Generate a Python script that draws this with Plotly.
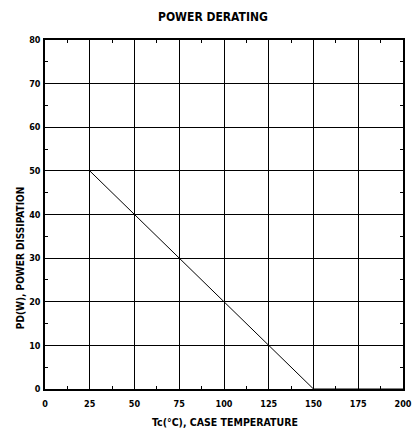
import plotly.graph_objects as go

temps = [25, 150, 200]
power = [50, 0, 0]
x_ticks = [0, 25, 50, 75, 100, 125, 150, 175, 200]
y_ticks = [0, 10, 20, 30, 40, 50, 60, 70, 80]

FONT = "Liberation Sans Narrow, Arial Narrow, DejaVu Sans Condensed, sans-serif"

fig = go.Figure()
fig.add_trace(go.Scatter(x=temps, y=power, mode="lines",
                         line=dict(color="black", width=1), showlegend=False))

axis_common = dict(
    showline=True, linecolor="black", linewidth=1.5, mirror="allticks",
    showgrid=True, gridcolor="black", gridwidth=1,
    ticks="inside", ticklen=0, tickcolor="black",
    zeroline=False, automargin=False,
    tickfont=dict(family=FONT, size=9, color="black", weight="bold"),
    minor=dict(ticks="inside", ticklen=3, tickcolor="black", showgrid=False),
)

fig.update_xaxes(range=[0, 200], tickvals=x_ticks, ticktext=[str(v) for v in x_ticks],
                 ticklabelstandoff=5, **axis_common)
fig.update_xaxes(minor_dtick=12.5, minor_tick0=0)
fig.update_yaxes(range=[0, 80], tickvals=y_ticks, ticktext=[str(v) for v in y_ticks],
                 ticklabelstandoff=1, **axis_common)
fig.update_yaxes(minor_dtick=5, minor_tick0=0)

fig.add_annotation(text="<b>Tc(°C), CASE TEMPERATURE</b>", xref="paper", yref="paper",
                   x=0.503, y=-0.0946, xanchor="center", yanchor="middle", showarrow=False,
                   font=dict(family=FONT, size=10.5, color="black"))
fig.add_annotation(text="<b>PD(W), POWER DISSIPATION</b>", xref="paper", yref="paper",
                   x=-0.0698, y=0.375, xanchor="center", yanchor="middle", showarrow=False,
                   textangle=-90, font=dict(family=FONT, size=10, color="black"))
fig.add_annotation(text="<b>POWER DERATING</b>", xref="paper", yref="paper",
                   x=0.47, y=1.066, xanchor="center", yanchor="middle", showarrow=False,
                   font=dict(family=FONT, size=12, color="black"))

fig.update_layout(
    width=413, height=438,
    margin=dict(l=45, r=10, t=40, b=49),
    paper_bgcolor="white", plot_bgcolor="white",
)

fig.write_html(
    "out.html",
    config={"displayModeBar": False},
    post_script="document.body.style.margin='0';document.documentElement.style.overflow='hidden';document.body.style.overflow='hidden';",
)
